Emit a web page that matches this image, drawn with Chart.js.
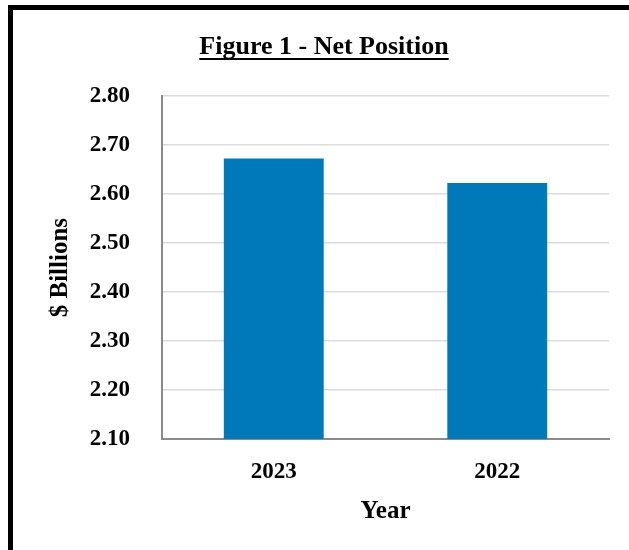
<!DOCTYPE html>
<html lang="en">
  <head>
    <meta charset="utf-8" />
    <script src="https://cdn.jsdelivr.net/npm/chart.js"></script>
    <title>Figure 1 - Net Position</title>
    <style>
      html, body { margin: 0; padding: 0; background: #fff; }
      .frame {
        position: absolute; left: 8px; top: 5px;
        width: 616px; height: 540px;
        border-left: 5px solid #000; border-top: 5px solid #000;
      }
      .frame canvas { display: block; }
    </style>
  </head>
  <body>
    <div class="frame">
      <canvas id="netChart" width="616" height="540"></canvas>
    </div>
    <script>
      // data
      var years = ["2023", "2022"];
      var netPosition = [2.673, 2.623]; // $ billions
      var yMin = 2.10;
      var yMax = 2.80;
      var yStep = 0.10;

      var serif = "'Liberation Serif', 'Times New Roman', serif";

      // draws the underline below the chart title
      var titleUnderline = {
        id: "titleUnderline",
        afterDraw: function (chart) {
          var t = chart.titleBlock;
          if (!t) return;
          var ctx = chart.ctx;
          var opts = chart.options.plugins.title;
          ctx.save();
          ctx.font = "bold " + opts.font.size + "px " + serif;
          var w = ctx.measureText(opts.text).width;
          var cx = (t.left + t.right) / 2;
          var y = t.top + opts.padding.top + opts.font.size * 1.2 / 2 + opts.font.size * 0.44;
          ctx.strokeStyle = "#000";
          ctx.lineWidth = 2;
          ctx.beginPath();
          ctx.moveTo(cx - w / 2, y);
          ctx.lineTo(cx + w / 2, y);
          ctx.stroke();
          ctx.restore();
        }
      };

      var ctx = document.getElementById("netChart").getContext("2d");
      var chart = new Chart(ctx, {
        type: "bar",
        data: {
          labels: years,
          datasets: [{
            data: netPosition,
            backgroundColor: "#0079BA",
            borderWidth: 0,
            categoryPercentage: 1,
            barPercentage: 0.447
          }]
        },
        options: {
          responsive: false,
          animation: false,
          layout: { padding: { left: 26, right: 20, top: 0, bottom: 0 } },
          plugins: {
            legend: { display: false },
            tooltip: { enabled: false },
            title: {
              display: true,
              text: "Figure 1 - Net Position",
              color: "#000",
              font: { family: serif, size: 26, weight: "bold" },
              padding: { top: 22, bottom: 33 }
            }
          },
          scales: {
            x: {
              grid: { display: false, drawTicks: false },
              border: { display: true, color: "#8a8a8a", width: 2 },
              ticks: {
                color: "#000",
                padding: 19,
                font: { family: serif, size: 23, weight: "bold" }
              },
              title: {
                display: true,
                text: "Year",
                color: "#000",
                font: { family: serif, size: 25, weight: "bold" },
                padding: { top: 0, bottom: 23 }
              },
              afterFit: function (s) { s.height = 111; }
            },
            y: {
              min: yMin,
              max: yMax,
              grid: { color: "#dcdcdc", lineWidth: 1.5, drawTicks: false },
              border: { display: true, color: "#8a8a8a", width: 2 },
              ticks: {
                stepSize: yStep,
                color: "#000",
                padding: 32,
                font: { family: serif, size: 23, weight: "bold" },
                callback: function (v) { return Number(v).toFixed(2); }
              },
              title: {
                display: true,
                text: "$ Billions",
                color: "#000",
                font: { family: serif, size: 25, weight: "bold" },
                padding: { top: 7, bottom: 0 }
              },
              afterFit: function (s) { s.width = 123; }
            }
          }
        },
        plugins: [titleUnderline]
      });
    </script>
  </body>
</html>
